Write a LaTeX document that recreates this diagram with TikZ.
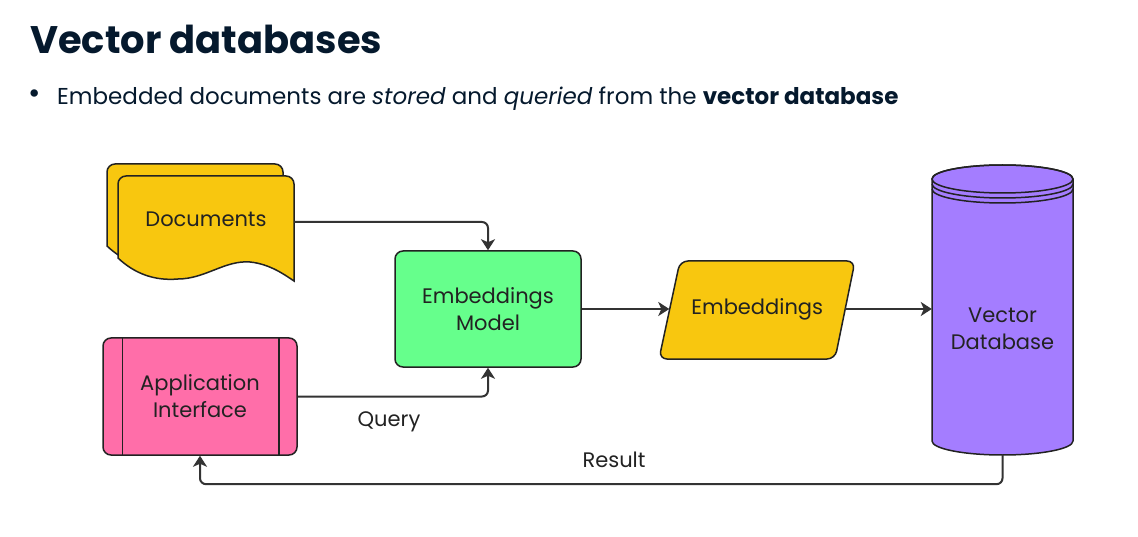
\documentclass[tikz,border=0pt]{standalone}
\usepackage{fontspec}
\setmainfont{Poppins}
\usetikzlibrary{arrows.meta,calc}
\definecolor{ink}{HTML}{05192D}
\definecolor{edge}{HTML}{222222}
\definecolor{wire}{HTML}{333333}
\definecolor{docyellow}{HTML}{F8C70F}
\definecolor{modelgreen}{HTML}{66FF8C}
\definecolor{apppink}{HTML}{FF6EA9}
\definecolor{dbpurple}{HTML}{A47DFF}
\tikzset{
  shapeline/.style={draw=edge, line width=1.5pt},
  box/.style={shapeline, rounded corners=8pt, align=center, font=\fontsize{21}{27}\selectfont, text=edge},
  label/.style={font=\fontsize{21}{27}\selectfont, text=edge, align=center},
  arr/.style={draw=wire, line width=2pt, rounded corners=6pt, -{Stealth[length=11pt,width=14pt,inset=3pt]}},
}
\begin{document}
\begin{tikzpicture}[x=1pt,y=-1pt]
\useasboundingbox[fill=white] (0,0) rectangle (1138,537);

% heading and bullet line
\node[anchor=base west, inner sep=0pt, text=ink, font=\fontsize{38.4}{46}\selectfont\bfseries] (title) at (30,54) {Vector databases};
\node[inner sep=0pt, text=ink, font=\fontsize{30}{30}\selectfont] (bul) at (35,97) {•};
\node[anchor=base west, inner sep=0pt, text=ink, font=\fontsize{23}{28}\selectfont] (lead) at (57,105)
  {Embedded documents are \textit{stored} and \textit{queried} from the \textbf{vector database}};

% stacked documents (back sheet, then front sheet)
\filldraw[shapeline, fill=docyellow]
  (107,246) [rounded corners=8pt] -- (107,164) -- (283,164) [sharp corners] -- (283,269)
  .. controls (274,263) and (259,252) .. (239,250)
  .. controls (214,248) and (194,267) .. (167,267)
  .. controls (144,269) and (124,262) .. (107,246) -- cycle;
\filldraw[shapeline, fill=docyellow]
  (118,258) [rounded corners=8pt] -- (118,176) -- (294,176) [sharp corners] -- (294,281)
  .. controls (285,275) and (270,264) .. (250,262)
  .. controls (225,260) and (205,279) .. (178,279)
  .. controls (155,281) and (135,274) .. (118,258) -- cycle;
\node[minimum width=176pt, minimum height=92pt, inner sep=0pt] (docs) at (206,222) {};
\node[label] (docstext) at (206,219) {Documents};

% embeddings model
\node[box, fill=modelgreen, minimum width=186pt, minimum height=116pt] (model) at (488,309) {Embeddings\\Model};

% application interface
\node[box, fill=apppink, minimum width=194pt, minimum height=117pt] (app) at (200,396.5) {Application\\Interface};
\draw[shapeline] ([xshift=20pt]app.north west) -- ([xshift=20pt]app.south west);
\draw[shapeline] ([xshift=-19pt]app.north east) -- ([xshift=-19pt]app.south east);

% embeddings parallelogram
\filldraw[shapeline, fill=docyellow, rounded corners=8pt]
  (680,261) -- (855,261) -- (835,359) -- (659,359) -- cycle;
\node[label, minimum width=175.5pt, minimum height=98pt, inner sep=0pt] (emb) at (757.25,309) {Embeddings};

% vector database cylinder
\filldraw[shapeline, fill=dbpurple]
  (932,179) -- (932,441) arc[start angle=180, end angle=0, x radius=70.5, y radius=14]
  -- (1073,179) arc[start angle=0, end angle=-180, x radius=70.5, y radius=14] -- cycle;
\draw[shapeline] (1002.5,179) ellipse[x radius=70.5, y radius=14];
\draw[shapeline] (932,184) arc[start angle=180, end angle=0, x radius=70.5, y radius=14];
\draw[shapeline] (932,189) arc[start angle=180, end angle=0, x radius=70.5, y radius=14];
\node[minimum width=141pt, minimum height=289pt, inner sep=0pt] (vdb) at (1002.5,310.5) {};
\node[label] (vdbtext) at (1002.5,329) {Vector\\Database};

% connectors
\draw[arr] (docs.east) -| (model.north);
\draw[arr] (app.east) -| (model.south);
\draw[arr] (model.east) -- (emb.west);
\draw[arr] (emb.east) -- (emb.east -| vdb.west);
\draw[arr] (vdb.south) -- ++(0,29) -| (app.south);

% connector labels
\node[label] (qlab) at (389,422) {Query};
\node[label] (rlab) at (614,460) {Result};
\end{tikzpicture}
\end{document}
